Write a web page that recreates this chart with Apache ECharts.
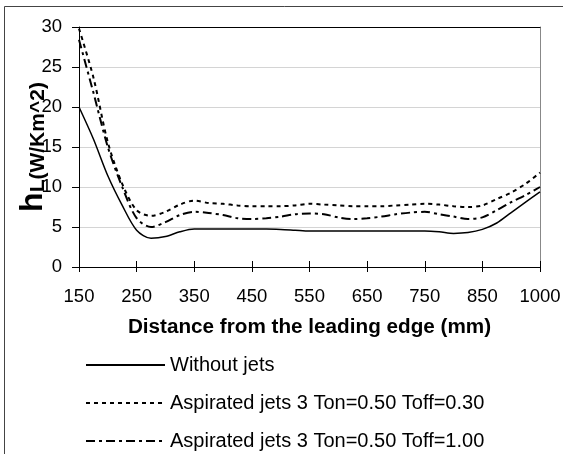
<!DOCTYPE html>
<html><head><meta charset="utf-8">
<script src="https://cdn.jsdelivr.net/npm/echarts@6/dist/echarts.min.js"></script>
<style>html,body{margin:0;padding:0;background:#fff}#c{width:563px;height:454px}</style>
</head><body><div id="c"></div>
<script>
const categories = ['150','175','200','225','250','275','300','325','350','375','400','425','450','475','500','525','550','575','600','625','650','675','700','725','750','775','800','825','850','887.5','925','962.5','1000'];
const withoutJets = [20,16,11.4,7.7,4.6,3.6,3.8,4.4,4.75,4.75,4.75,4.75,4.75,4.75,4.7,4.6,4.5,4.5,4.5,4.5,4.5,4.5,4.5,4.5,4.5,4.4,4.2,4.3,4.7,5.5,6.8,8.1,9.4];
const jetsToff030 = [29.8,23.7,15.6,10.4,7.1,6.4,6.9,7.8,8.3,8.0,7.9,7.7,7.6,7.6,7.6,7.7,7.9,7.8,7.7,7.6,7.6,7.6,7.7,7.8,7.9,7.8,7.6,7.5,7.7,8.5,9.3,10.4,11.8];
const jetsToff100 = [28.4,21.8,15,10,6.1,5,5.6,6.5,6.9,6.75,6.5,6.1,6.0,6.1,6.3,6.6,6.7,6.6,6.2,6.0,6.1,6.3,6.6,6.8,6.9,6.6,6.3,6.0,6.2,7.1,8.1,9.0,10.0];
const seriesNames = ['Without jets','Aspirated jets 3 Ton=0.50 Toff=0.30','Aspirated jets 3 Ton=0.50 Toff=1.00'];
const xTitle = 'Distance from the leading edge (mm)';

const FONT = '"Liberation Sans", Arial, sans-serif';
const chart = echarts.init(document.getElementById('c'), null, {renderer:'canvas'});
const baseX = {
  type:'category', data:categories, boundaryGap:false,
  axisLabel:{show:false}, splitLine:{show:false}
};
chart.setOption({
  animation:false,
  backgroundColor:'#fff',
  textStyle:{fontFamily:FONT},
  graphic:[{type:'rect', shape:{x:4.5,y:6.5,width:600,height:500}, style:{fill:null, stroke:'#444', lineWidth:1}, silent:true}],
  grid:{left:79, right:23, top:27, bottom:187, containLabel:false, outerBoundsMode:'none'},
  legend:{
    orient:'vertical', left:85, top:355, padding:0, itemWidth:79, itemHeight:14, itemGap:18,
    textStyle:{fontFamily:FONT, fontSize:20, color:'#000'},
    itemStyle:{color:'rgba(0,0,0,0)', borderWidth:0, opacity:0},
    data:seriesNames
  },
  xAxis:[
    Object.assign({}, baseX, {
      position:'bottom',
      axisLine:{lineStyle:{color:'#000', width:1}},
      axisTick:{show:true, interval:3, length:5, lineStyle:{color:'#000'}},
      axisLabel:{show:true, interval:3, fontSize:18.5, color:'#000', fontFamily:FONT, margin:20},
      name:xTitle, nameLocation:'middle', nameGap:50, nameMoveOverlap:false,
      nameTextStyle:{fontSize:20.7, fontWeight:'bold', color:'#000', fontFamily:FONT}
    }),
    Object.assign({}, baseX, {
      position:'bottom',
      axisLine:{show:false},
      axisTick:{show:true, inside:true, interval:3, length:6, lineStyle:{color:'#000'}}
    }),
    Object.assign({}, baseX, {
      position:'top',
      axisLine:{lineStyle:{color:'#000', width:1}},
      axisTick:{show:false}
    })
  ],
  yAxis:[
    {
      type:'value', min:0, max:30, interval:5, position:'left',
      axisLine:{show:true, lineStyle:{color:'#000', width:1}},
      axisTick:{show:true, length:7, lineStyle:{color:'#000'}},
      axisLabel:{fontSize:18.5, color:'#000', fontFamily:FONT, margin:17},
      splitLine:{show:true, lineStyle:{color:'#d4d4d4', width:1}},
      name:'{h|h}{s|L(W/Km^2)}', nameLocation:'middle', nameRotate:90, nameGap:30, nameMoveOverlap:false,
      nameTextStyle:{
        color:'#000', fontFamily:FONT,
        rich:{
          h:{fontSize:32, fontWeight:'bold', fontFamily:FONT, color:'#000', verticalAlign:'bottom'},
          s:{fontSize:21, fontWeight:'bold', fontFamily:FONT, color:'#000', verticalAlign:'bottom'}
        }
      }
    },
    {
      type:'value', min:0, max:30, interval:5, position:'right',
      axisLine:{show:true, lineStyle:{color:'#888', width:1}},
      axisTick:{show:false}, axisLabel:{show:false}, splitLine:{show:false}
    }
  ],
  series:[
    {name:seriesNames[0], type:'line', data:withoutJets, smooth:0.3, symbol:'none',
     lineStyle:{color:'#000', width:1.5, type:'solid'}, itemStyle:{color:'#000'}},
    {name:seriesNames[1], type:'line', data:jetsToff030, smooth:0.3, symbol:'none',
     lineStyle:{color:'#000', width:2, type:[4,4]}, itemStyle:{color:'#000'}},
    {name:seriesNames[2], type:'line', data:jetsToff100, smooth:0.3, symbol:'none',
     lineStyle:{color:'#000', width:2, type:[9,4,3,4]}, itemStyle:{color:'#000'}}
  ]
});
</script></body></html>
